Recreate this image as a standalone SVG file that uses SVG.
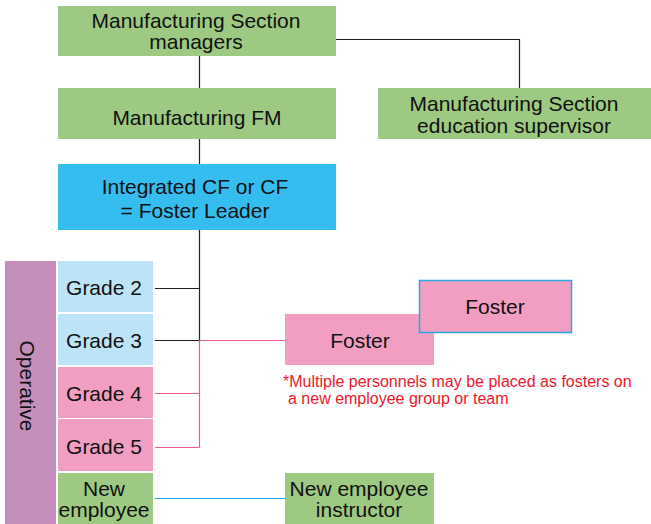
<svg xmlns="http://www.w3.org/2000/svg" width="651" height="524" viewBox="0 0 651 524">
<style>
text{font-family:"Liberation Sans",Arial,sans-serif;font-size:21px;fill:#111;text-anchor:middle}
.g{fill:#9dc983}.b{fill:#35bdf0}.lb{fill:#bde3f7}.p{fill:#f19ec2}.o{fill:#c48fbb}
.k{stroke:#222;stroke-width:1.2;fill:none}
.pk{stroke:#ec5a98;stroke-width:1.2;fill:none}
.bl{stroke:#1aa0e8;stroke-width:1.2;fill:none}
.note{font-size:16px;fill:#e8192c;text-anchor:start}
</style>
<rect width="651" height="524" fill="#fff"/>
<g id="connectors">
<path class="k" d="M336 39.5H519.5V88"/>
<path class="k" d="M199.5 56V88"/>
<path class="k" d="M199.5 139V164"/>
<path class="k" d="M199.5 230V340.5"/>
<path class="k" stroke="#555" d="M155 288.5H199.5"/>
<path class="k" d="M155 340.5H199.5"/>
<path class="pk" d="M199.5 340.5H285"/>
<path class="pk" d="M199.5 340.5V447.5"/>
<path class="pk" d="M155 393.5H199.5"/>
<path class="pk" d="M155 447.5H199.5"/>
<path class="bl" d="M155 498.5H285"/>
</g>
<g id="managers"><rect class="g" x="58" y="6" width="278" height="50"/><text x="196" y="28">Manufacturing Section</text><text x="196" y="49">managers</text></g>
<g id="education"><rect class="g" x="378" y="88" width="273" height="51"/><text x="514" y="111">Manufacturing Section</text><text x="514" y="133">education supervisor</text></g>
<g id="fm"><rect class="g" x="58" y="88" width="278" height="51"/><text x="197" y="125">Manufacturing FM</text></g>
<g id="cf"><rect class="b" x="58" y="164" width="278" height="66"/><text x="195" y="194">Integrated CF or CF</text><text x="195" y="218">= Foster Leader</text></g>
<g id="operative"><rect class="o" x="5" y="261" width="51" height="263"/><text transform="translate(20 386) rotate(90)">Operative</text></g>
<g id="grade2"><rect class="lb" x="58" y="261" width="95" height="51"/><text x="104" y="295">Grade 2</text></g>
<g id="grade3"><rect class="lb" x="58" y="314" width="95" height="51"/><text x="104" y="348">Grade 3</text></g>
<g id="grade4"><rect class="p" x="58" y="367" width="95" height="51"/><text x="104" y="401">Grade 4</text></g>
<g id="grade5"><rect class="p" x="58" y="419" width="95" height="52"/><text x="104" y="454">Grade 5</text></g>
<g id="newemployee"><rect class="g" x="58" y="473" width="95" height="51"/><text x="104" y="496">New</text><text x="104" y="517">employee</text></g>
<g id="foster1"><rect class="p" x="285" y="314" width="149" height="51"/><text x="360" y="348">Foster</text></g>
<g id="foster2"><rect class="p" x="419.5" y="280.5" width="152" height="52" stroke="#29a8e0" stroke-width="1.5"/><text x="495" y="314">Foster</text></g>
<g id="note"><text class="note" x="283" y="387">*Multiple personnels may be placed as fosters on</text><text class="note" x="288" y="404">a new employee group or team</text></g>
<g id="instructor"><rect class="g" x="285" y="473" width="149" height="51"/><text x="359" y="496">New employee</text><text x="359" y="517">instructor</text></g>
</svg>
